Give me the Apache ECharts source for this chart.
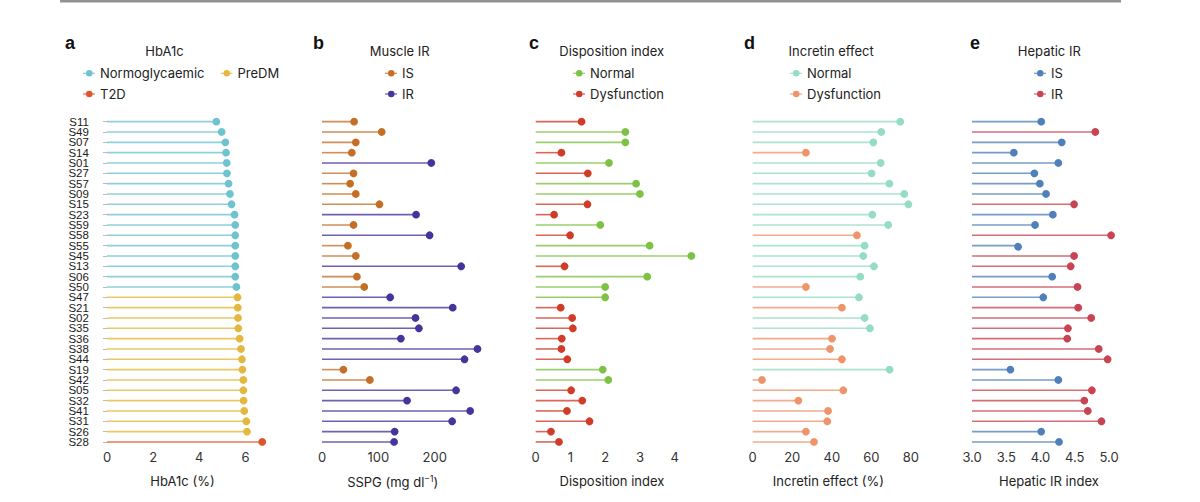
<!DOCTYPE html>
<html>
<head>
<meta charset="utf-8">
<script src="https://cdn.jsdelivr.net/npm/echarts@6/dist/echarts.min.js"></script>
<style>
html,body{margin:0;padding:0;background:#fff;}
#chart{width:1200px;height:502px;}
</style>
</head>
<body>
<div id="chart"></div>
<script>
// ---------------- DATA ----------------
const subjects = ['S11','S49','S07','S14','S01','S27','S57','S09','S15','S23','S59','S58','S55','S45','S13','S06','S50','S47','S21','S02','S35','S36','S38','S44','S19','S42','S05','S32','S41','S31','S26','S28'];

// a: HbA1c (%)
const hba1c = [4.74,4.97,5.13,5.16,5.19,5.20,5.27,5.33,5.40,5.53,5.56,5.56,5.56,5.56,5.56,5.56,5.61,5.66,5.67,5.68,5.69,5.75,5.81,5.85,5.87,5.91,5.91,5.92,5.95,6.04,6.07,6.73];
const hba1cGroup = ['N','N','N','N','N','N','N','N','N','N','N','N','N','N','N','N','N','P','P','P','P','P','P','P','P','P','P','P','P','P','P','T'];

// b: SSPG (mg/dl)
const sspg = [57,106,60,53,194,56,50,60,102,167,56,191,46,60,247,62,75,121,232,166,172,140,276,253,38,85,238,151,263,231,129,128];
const sspgGroup = ['IS','IS','IS','IS','IR','IS','IS','IS','IS','IR','IS','IR','IS','IS','IR','IS','IS','IR','IR','IR','IR','IR','IR','IR','IS','IS','IR','IR','IR','IR','IR','IR'];

// c: Disposition index
const dispIndex = [1.32,2.58,2.58,0.74,2.11,1.50,2.89,3.00,1.49,0.53,1.86,0.99,3.28,4.48,0.83,3.21,2.00,2.00,0.72,1.05,1.07,0.75,0.74,0.91,1.93,2.09,1.02,1.34,0.90,1.55,0.44,0.67];
const dispGroup = ['D','N','N','D','N','D','N','N','D','D','N','D','N','N','D','N','N','N','D','D','D','D','D','D','N','N','D','D','D','D','D','D'];

// d: Incretin effect (%)
const incretin = [74.6,65.0,61.0,26.9,64.7,60.1,69.1,76.6,78.7,60.5,68.5,52.7,56.6,55.9,61.3,54.4,26.9,53.7,45.1,56.6,59.3,40.1,39.1,45.1,69.2,4.7,45.8,23.1,38.1,37.7,26.9,31.0];
const incretinGroup = ['N','N','N','D','N','N','N','N','N','N','N','D','N','N','N','N','D','N','D','N','N','D','D','D','N','D','D','D','D','D','D','D'];

// e: Hepatic IR index
const hepatic = [4.01,4.80,4.31,3.61,4.26,3.91,3.99,4.08,4.49,4.18,3.92,5.03,3.67,4.49,4.44,4.17,4.54,4.04,4.55,4.74,4.40,4.39,4.85,4.98,3.56,4.26,4.75,4.64,4.69,4.89,4.01,4.27];
const hepaticGroup = ['IS','IR','IS','IS','IS','IS','IS','IS','IR','IS','IS','IR','IS','IR','IR','IS','IR','IS','IR','IR','IR','IR','IR','IR','IS','IS','IR','IR','IR','IR','IS','IS'];

// tick labels
const ticksA = [0,2,4,6];
const ticksB = [0,100,200];
const ticksC = [0,1,2,3,4];
const ticksD = [0,20,40,60,80];
const ticksE = [3.0,3.5,4.0,4.5,5.0];

// ---------------- PANEL DEFINITIONS ----------------
const panels = [
  {letter:'a', title:'HbA1c', axisName:'HbA1c (%)', values:hba1c, groups:hba1cGroup, ticks:ticksA, base:0, dec:0,
   cats:[['N','Normoglycaemic','#6ec3cf'],['P','PreDM','#e4b83e'],['T','T2D','#dc552b']]},
  {letter:'b', title:'Muscle IR', axisName:'SSPG (mg dl{sup|−1})', values:sspg, groups:sspgGroup, ticks:ticksB, base:0, dec:0,
   cats:[['IS','IS (muscle)','#c46e26'],['IR','IR (muscle)','#46339b']]},
  {letter:'c', title:'Disposition index', axisName:'Disposition index', values:dispIndex, groups:dispGroup, ticks:ticksC, base:0, dec:0,
   cats:[['N','Normal (DI)','#7dc244'],['D','Dysfunction (DI)','#d03c28']]},
  {letter:'d', title:'Incretin effect', axisName:'Incretin effect (%)', values:incretin, groups:incretinGroup, ticks:ticksD, base:0, dec:0,
   cats:[['N','Normal (incretin)','#94dcc4'],['D','Dysfunction (incretin)','#ee946b']]},
  {letter:'e', title:'Hepatic IR', axisName:'Hepatic IR index', values:hepatic, groups:hepaticGroup, ticks:ticksE, base:3.0, dec:1,
   cats:[['IS','IS (hepatic)','#5080b9'],['IR','IR (hepatic)','#c94452']]}
];

// ---------------- LAYOUT ----------------
const GRID_TOP = 116.5, GRID_H = 330.6;
const layout = [
  {left:98.9,  width:171.2, min:-0.35, max:7.07,  namePad:[0,4,0,0],  letterX:65,  titleX:164.5, legendX:83},
  {left:314.2, width:170.9, min:-13.8, max:289.5, namePad:[0,14,0,0], letterX:313, titleX:399.7, legendX:385},
  {left:527.9, width:171.1, min:-0.224,max:4.70,  namePad:[0,3,0,0],  letterX:529, titleX:611.7, legendX:573},
  {left:744.9, width:171.0, min:-3.93, max:82.5,  namePad:[0,4,0,0],  letterX:744, titleX:831.2, legendX:790},
  {left:965.2, width:153.4, min:2.9,   max:5.14,  namePad:[0,0,0,14], letterX:970, titleX:1049.3,legendX:1034}
];

const FONT = 'Inter, "Noto Sans", sans-serif';
const LABEL_FONT = '"Liberation Sans", Arial, sans-serif';
const ICON = 'path://M0,5.6H24V7.4H0Z M19,6.5A6.5,6.5 0 1,1 6,6.5A6.5,6.5 0 1,1 19,6.5Z';

function makeRender(base){
  return function(params, api){
    const cat = api.value(1);
    const p0 = api.coord([base, cat]);
    const p1 = api.coord([api.value(0), cat]);
    const color = api.visual('color');
    return {type:'group', children:[
      {type:'line', shape:{x1:p0[0], y1:p0[1], x2:p1[0], y2:p1[1]}, style:{stroke:color, lineWidth:1.6, opacity:0.78}},
      {type:'circle', shape:{cx:p1[0], cy:p1[1], r:3.9}, style:{fill:color}}
    ]};
  };
}

const grid = [], xAxis = [], yAxis = [], series = [], legend = [], graphic = [];

graphic.push({type:'rect', shape:{x:60, y:0, width:1061, height:2.5}, style:{fill:'#929292'}, silent:true});

panels.forEach((p, i) => {
  const L = layout[i];
  grid.push({left:L.left, top:GRID_TOP, width:L.width, height:GRID_H, containLabel:false});
  xAxis.push({
    type:'value', gridIndex:i, min:L.min, max:L.max,
    axisLine:{show:false}, axisTick:{show:false}, splitLine:{show:false},
    axisLabel:{customValues:p.ticks, margin:3, color:'#333', fontSize:13, fontFamily:FONT,
      formatter: v => p.dec ? Number(v).toFixed(p.dec) : String(Math.round(v))},
    name:p.axisName, nameLocation:'middle', nameGap:27,
    nameTextStyle:{color:'#222', fontSize:13, fontFamily:FONT, padding:L.namePad,
      rich:{sup:{fontSize:8.5, fontFamily:FONT, color:'#222', verticalAlign:'top', padding:[0,0,6,0]}}}
  });
  yAxis.push({
    type:'category', gridIndex:i, data:subjects, inverse:true, boundaryGap:true,
    show: i === 0,
    axisLine:{show:false},
    axisTick:{show:true, alignWithLabel:true, length:4, lineStyle:{color:'#bbbbbb', width:1}},
    axisLabel:{margin:10, color:'#1a1a1a', fontSize:11.5, lineHeight:10, fontFamily:LABEL_FONT, interval:0}
  });
  p.cats.forEach(([code, name, color]) => {
    const data = [];
    p.values.forEach((v, k) => { if (p.groups[k] === code) data.push([v, subjects[k]]); });
    series.push({
      type:'custom', name:name, xAxisIndex:i, yAxisIndex:i,
      itemStyle:{color:color}, encode:{x:0, y:1},
      renderItem:makeRender(p.base), data:data, clip:false, silent:true
    });
  });
  // legends
  const legendBase = {selectedMode:false, padding:0, itemWidth:12, itemHeight:6.5, icon:ICON,
    textStyle:{color:'#222', fontSize:13, fontFamily:FONT},
    formatter: n => n.replace(/ \(.*\)$/, '')};
  if (i === 0) {
    legend.push(Object.assign({}, legendBase, {left:L.legendX, top:66.8, orient:'horizontal', itemGap:16,
      data:[p.cats[0][1], p.cats[1][1]]}));
    legend.push(Object.assign({}, legendBase, {left:L.legendX, top:87.5, orient:'horizontal',
      data:[p.cats[2][1]]}));
  } else {
    legend.push(Object.assign({}, legendBase, {left:L.legendX, top:66.8, orient:'vertical', itemGap:7.7,
      data:p.cats.map(c => c[1])}));
  }
  graphic.push({type:'text', left:L.letterX, top:34, silent:true,
    style:{text:p.letter, font:'bold 18px "Liberation Sans", Arial, sans-serif', fill:'#111'}});
  graphic.push({type:'text', x:L.titleX, y:50.5, silent:true,
    style:{text:p.title, font:'13px ' + FONT, fill:'#222', align:'center', verticalAlign:'middle'}});
});

const chart = echarts.init(document.getElementById('chart'), null, {renderer:'svg'});
chart.setOption({
  backgroundColor:'#ffffff',
  animation:false,
  tooltip:{show:false},
  grid, xAxis, yAxis, series, legend, graphic
});
</script>
</body>
</html>
